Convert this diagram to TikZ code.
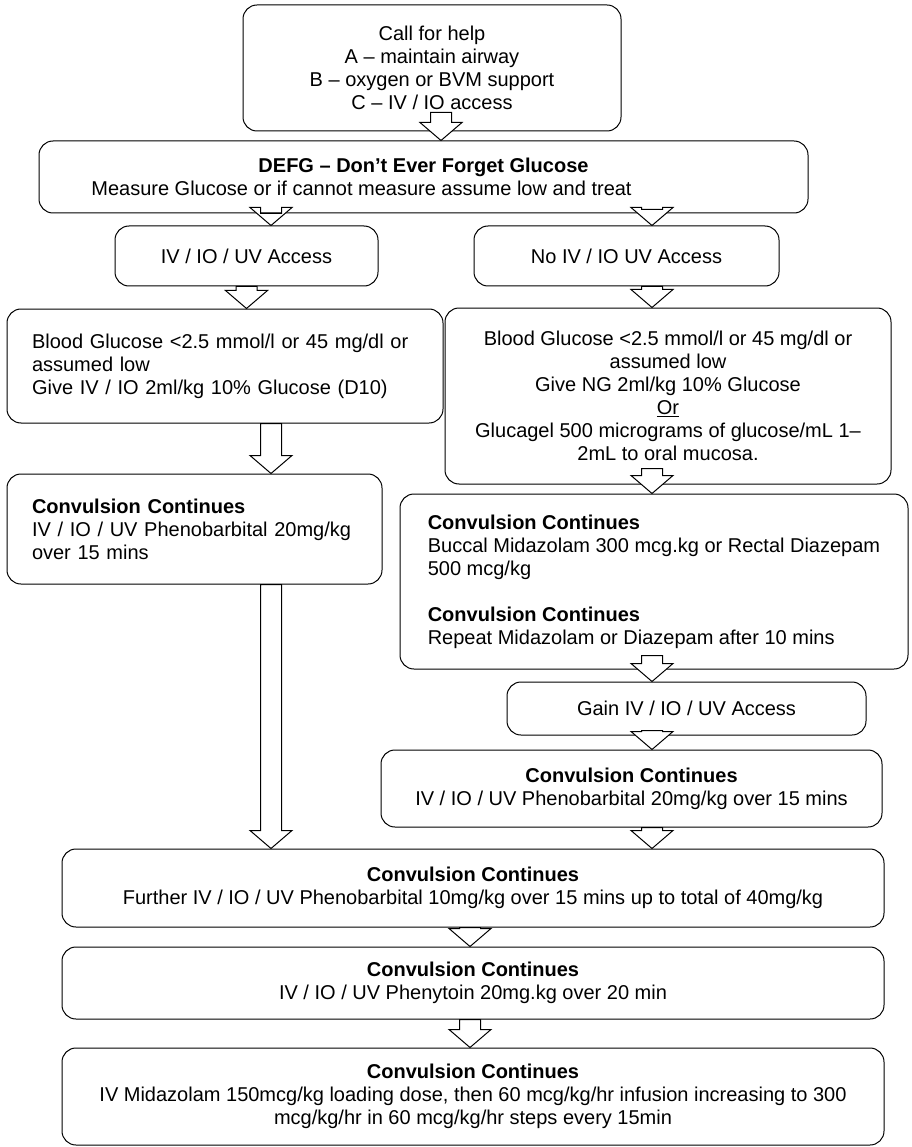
\documentclass[tikz,border=0pt]{standalone}
\usepackage{fontspec}
\setmainfont{Liberation Sans}
\usetikzlibrary{positioning,calc}

\begin{document}
\begin{tikzpicture}[
  x=1pt, y=-1pt,
  font=\fontsize{20pt}{23pt}\selectfont,
  box/.style={draw, line width=1pt, rounded corners=14pt, fill=white,
              inner sep=0pt, align=center},
  lbox/.style={box, align=left},
  fat/.style={draw, fill=white, line width=1pt,
    to path={let \p1=(\tikztostart), \p2=(\tikztotarget) in
      (\x2-10.5pt,\y1) -- (\x2+10.5pt,\y1) -- (\x2+10.5pt,\y2+18pt)
      -- (\x2+21pt,\y2+18pt) -- (\x2,\y2) -- (\x2-21pt,\y2+18pt)
      -- (\x2-10.5pt,\y2+18pt) -- cycle}}
]
\useasboundingbox (0,0) rectangle (911,1147);
% columns of the block arrows
\coordinate (tcol) at (441,0);
\coordinate (lcol) at (271,0);
\coordinate (rcol) at (652,0);
\coordinate (mcol) at (470,0);
% top
\node[box, minimum width=378, minimum height=126] (help) at (432,68)
  {Call for help\\ A – maintain airway\\ B – oxygen or BVM support\\ C – IV / IO access};
\node[box, minimum width=769, minimum height=72] (defg) at (423.5,177)
  {\textbf{DEFG – Don’t Ever Forget Glucose}\\
   \hspace*{-124pt}Measure Glucose or if cannot measure assume low and treat};
% access
\node[box, minimum width=263, minimum height=60] (iv) at (246.5,256) {IV / IO / UV Access};
\node[box, minimum width=305, minimum height=60] (noiv) at (626.5,256) {No IV / IO UV Access};
% glucose
\node[lbox, minimum width=436, minimum height=114, text width=386] (glul) at (225,366)
  {Blood Glucose <2.5 mmol/l or 45 mg/dl or\\ assumed low\\ Give IV / IO 2ml/kg 10\% Glucose (D10)};
\node[box, minimum width=446, minimum height=176] (glur) at (668,396)
  {Blood Glucose <2.5 mmol/l or 45 mg/dl or\\ assumed low\\ Give NG 2ml/kg 10\% Glucose\\
   \underline{Or}\\ Glucagel 500 micrograms of glucose/mL 1–\\ 2mL to oral mucosa.};
% first drugs
\node[lbox, minimum width=375, minimum height=110, text width=325] (phenl) at (194.5,529)
  {\textbf{Convulsion Continues}\\ IV / IO / UV Phenobarbital 20mg/kg\\ over 15 mins};
\node[lbox, minimum width=508, minimum height=175] (buccal) at (654,581.5)
  {\textbf{Convulsion Continues}\\ Buccal Midazolam 300 mcg.kg or Rectal Diazepam\\ 500 mcg/kg\\[23pt]
   \textbf{Convulsion Continues}\\ Repeat Midazolam or Diazepam after 10 mins};
\node[box, minimum width=359, minimum height=53] (gain) at (686.5,708.5) {Gain IV / IO / UV Access};
\node[box, minimum width=501, minimum height=77] (phenr) at (631.5,788.5)
  {\textbf{Convulsion Continues}\\ IV / IO / UV Phenobarbital 20mg/kg over 15 mins};
% bottom
\node[box, minimum width=822, minimum height=78] (further) at (473,888)
  {\textbf{Convulsion Continues}\\ Further IV / IO / UV Phenobarbital 10mg/kg over 15 mins up to total of 40mg/kg};
\node[box, minimum width=822, minimum height=72] (pheny) at (473,983)
  {\textbf{Convulsion Continues}\\ IV / IO / UV Phenytoin 20mg.kg over 20 min};
\node[box, minimum width=822, minimum height=97] (mida) at (473,1096.5)
  {\textbf{Convulsion Continues}\\ IV Midazolam 150mcg/kg loading dose, then 60 mcg/kg/hr infusion increasing to 300\\
   mcg/kg/hr in 60 mcg/kg/hr steps every 15min};
% arrows
\draw[fat] ($(help.south -| tcol)+(0,-19)$) to (defg.north -| tcol);
\draw[fat] (defg.south -| lcol) to (iv.north -| lcol);
\draw[fat] ($(defg.south -| rcol)+(0,-4)$) to (noiv.north -| rcol);
\draw[fat] (iv.south) to (glul.north -| iv.south);
\draw[fat] (noiv.south -| rcol) to (glur.north -| rcol);
\draw[fat] (glul.south -| lcol) to (phenl.north -| lcol);
\draw[fat] ($(glur.south -| rcol)+(0,-16)$) to (buccal.north -| rcol);
\draw[fat] ($(buccal.south -| rcol)+(0,-14)$) to (gain.north -| rcol);
\draw[fat] ($(gain.south -| rcol)+(0,-5)$) to (phenr.north -| rcol);
\draw[fat] (phenr.south -| rcol) to (further.north -| rcol);
\draw[fat] (phenl.south -| lcol) to (further.north -| lcol);
\draw[fat] (further.south -| mcol) to (pheny.north -| mcol);
\draw[fat] (pheny.south -| mcol) to (mida.north -| mcol);
\end{tikzpicture}
\end{document}
